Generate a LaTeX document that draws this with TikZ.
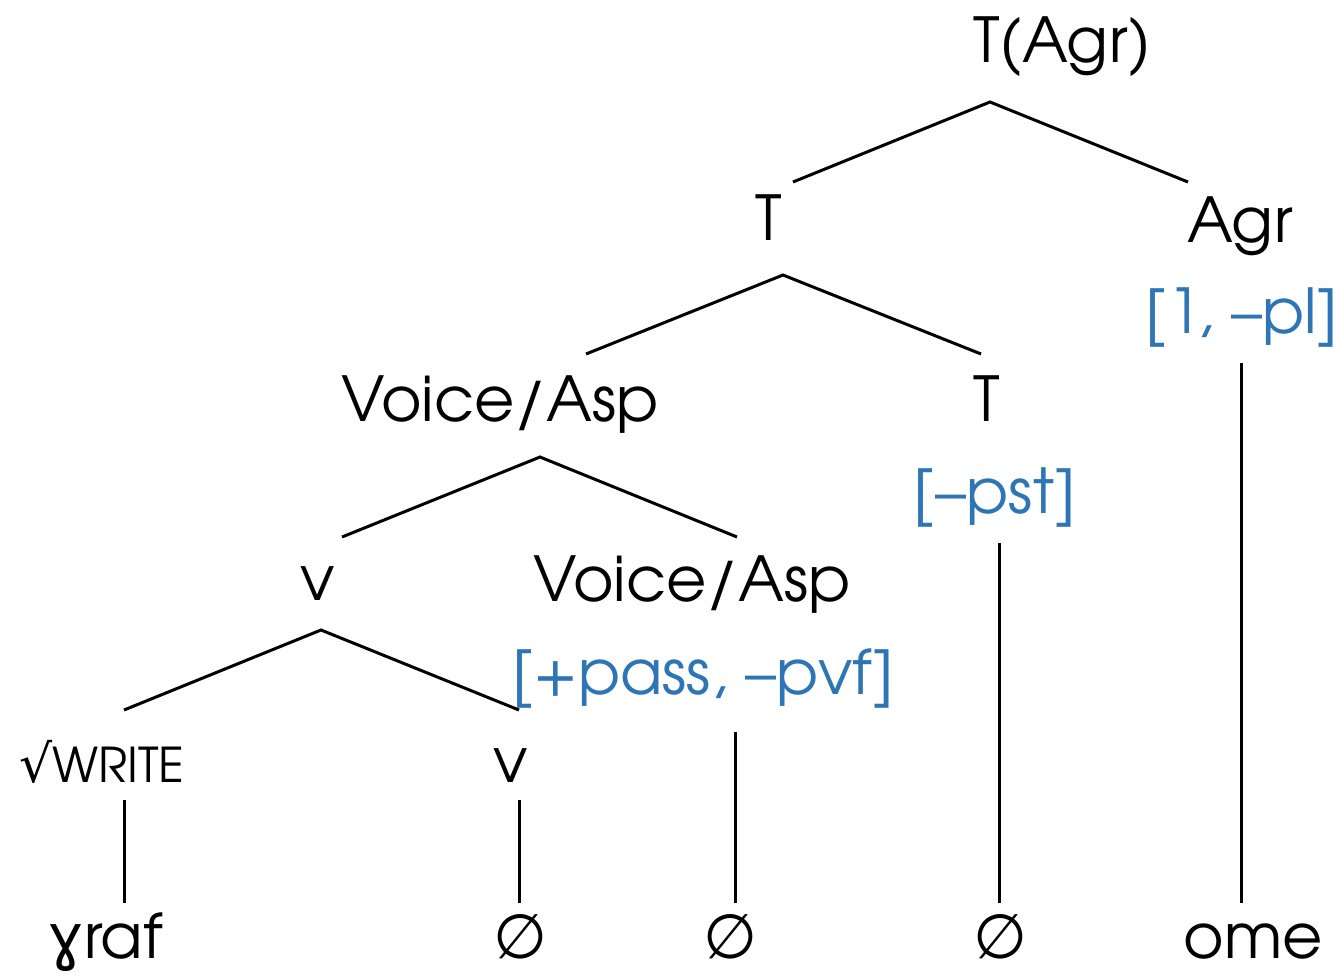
\documentclass[tikz,border=0pt]{standalone}
\usepackage{fontspec}
\setmainfont{texgyreadventor-regular.otf}
\newfontfamily\symfont{DejaVu Sans}
\definecolor{featblue}{RGB}{46,117,182}
\begin{document}
\begin{tikzpicture}[x=1pt,y=-1pt,
  lbl/.style={anchor=base,inner sep=0pt,font=\fontsize{62}{62}\selectfont},
  feat/.style={lbl,text=featblue},
  branch/.style={line width=3pt,black}]
\useasboundingbox (0,0) rectangle (1344,975);

% labels
\node[lbl] (tagr) at (1062,62) {T(Agr)};
\node[lbl] (t1) at (769,240) {T};
\node[lbl] (agr) at (1240,242) {Agr};
\node[feat] (agrf) at (1242,333) {[1, –pl]};
\node[lbl] (va1) at (500,421) {Voice/Asp};
\node[lbl] (t2) at (987,421) {T};
\node[feat] (t2f) at (995,513) {[–pst]};
\node[lbl] (v1) at (318,600) {v};
\node[lbl] (va2) at (692,601) {Voice/Asp};
\node[feat] (va2f) at (703,694) {[+pass, –pvf]};
\node[lbl] (root) at (102,782) {{\symfont\fontsize{52}{52}\selectfont √}{\fontsize{48}{48}\selectfont WRITE}};
\node[lbl] (v2) at (511,782) {v};
\node[lbl] (graf) at (105,958) {{\symfont ɣ}raf};
\node[lbl] (e1) at (520,958) {{\symfont ∅}};
\node[lbl] (e2) at (730,958) {{\symfont ∅}};
\node[lbl] (e3) at (1000,958) {{\symfont ∅}};
\node[lbl] (ome) at (1253,958) {ome};

% branch points
\coordinate (a1) at (990,102);
\coordinate (a1l) at (793,182);
\coordinate (a1r) at (1188,182);
\coordinate (a2) at (783,275);
\coordinate (a2l) at (586,354);
\coordinate (a2r) at (981,354);
\coordinate (a3) at (540,457);
\coordinate (a3l) at (342,537);
\coordinate (a3r) at (737,537);
\coordinate (a4) at (321,630);
\coordinate (a4l) at (124,710);
\coordinate (a4r) at (519,710);
\draw[branch] (a1l) -- (a1) -- (a1r);
\draw[branch] (a2l) -- (a2) -- (a2r);
\draw[branch] (a3l) -- (a3) -- (a3r);
\draw[branch] (a4l) -- (a4) -- (a4r);

% vertical exponent lines
\coordinate (r1) at (124,800); \coordinate (r2) at (124,903);
\coordinate (s1) at (519,800); \coordinate (s2) at (519,903);
\coordinate (p1) at (735,732); \coordinate (p2) at (735,903);
\coordinate (q1) at (999,543); \coordinate (q2) at (999,903);
\coordinate (g1) at (1241,363); \coordinate (g2) at (1241,903);
\draw[branch] (r1) -- (r2);
\draw[branch] (s1) -- (s2);
\draw[branch] (p1) -- (p2);
\draw[branch] (q1) -- (q2);
\draw[branch] (g1) -- (g2);
\end{tikzpicture}
\end{document}
